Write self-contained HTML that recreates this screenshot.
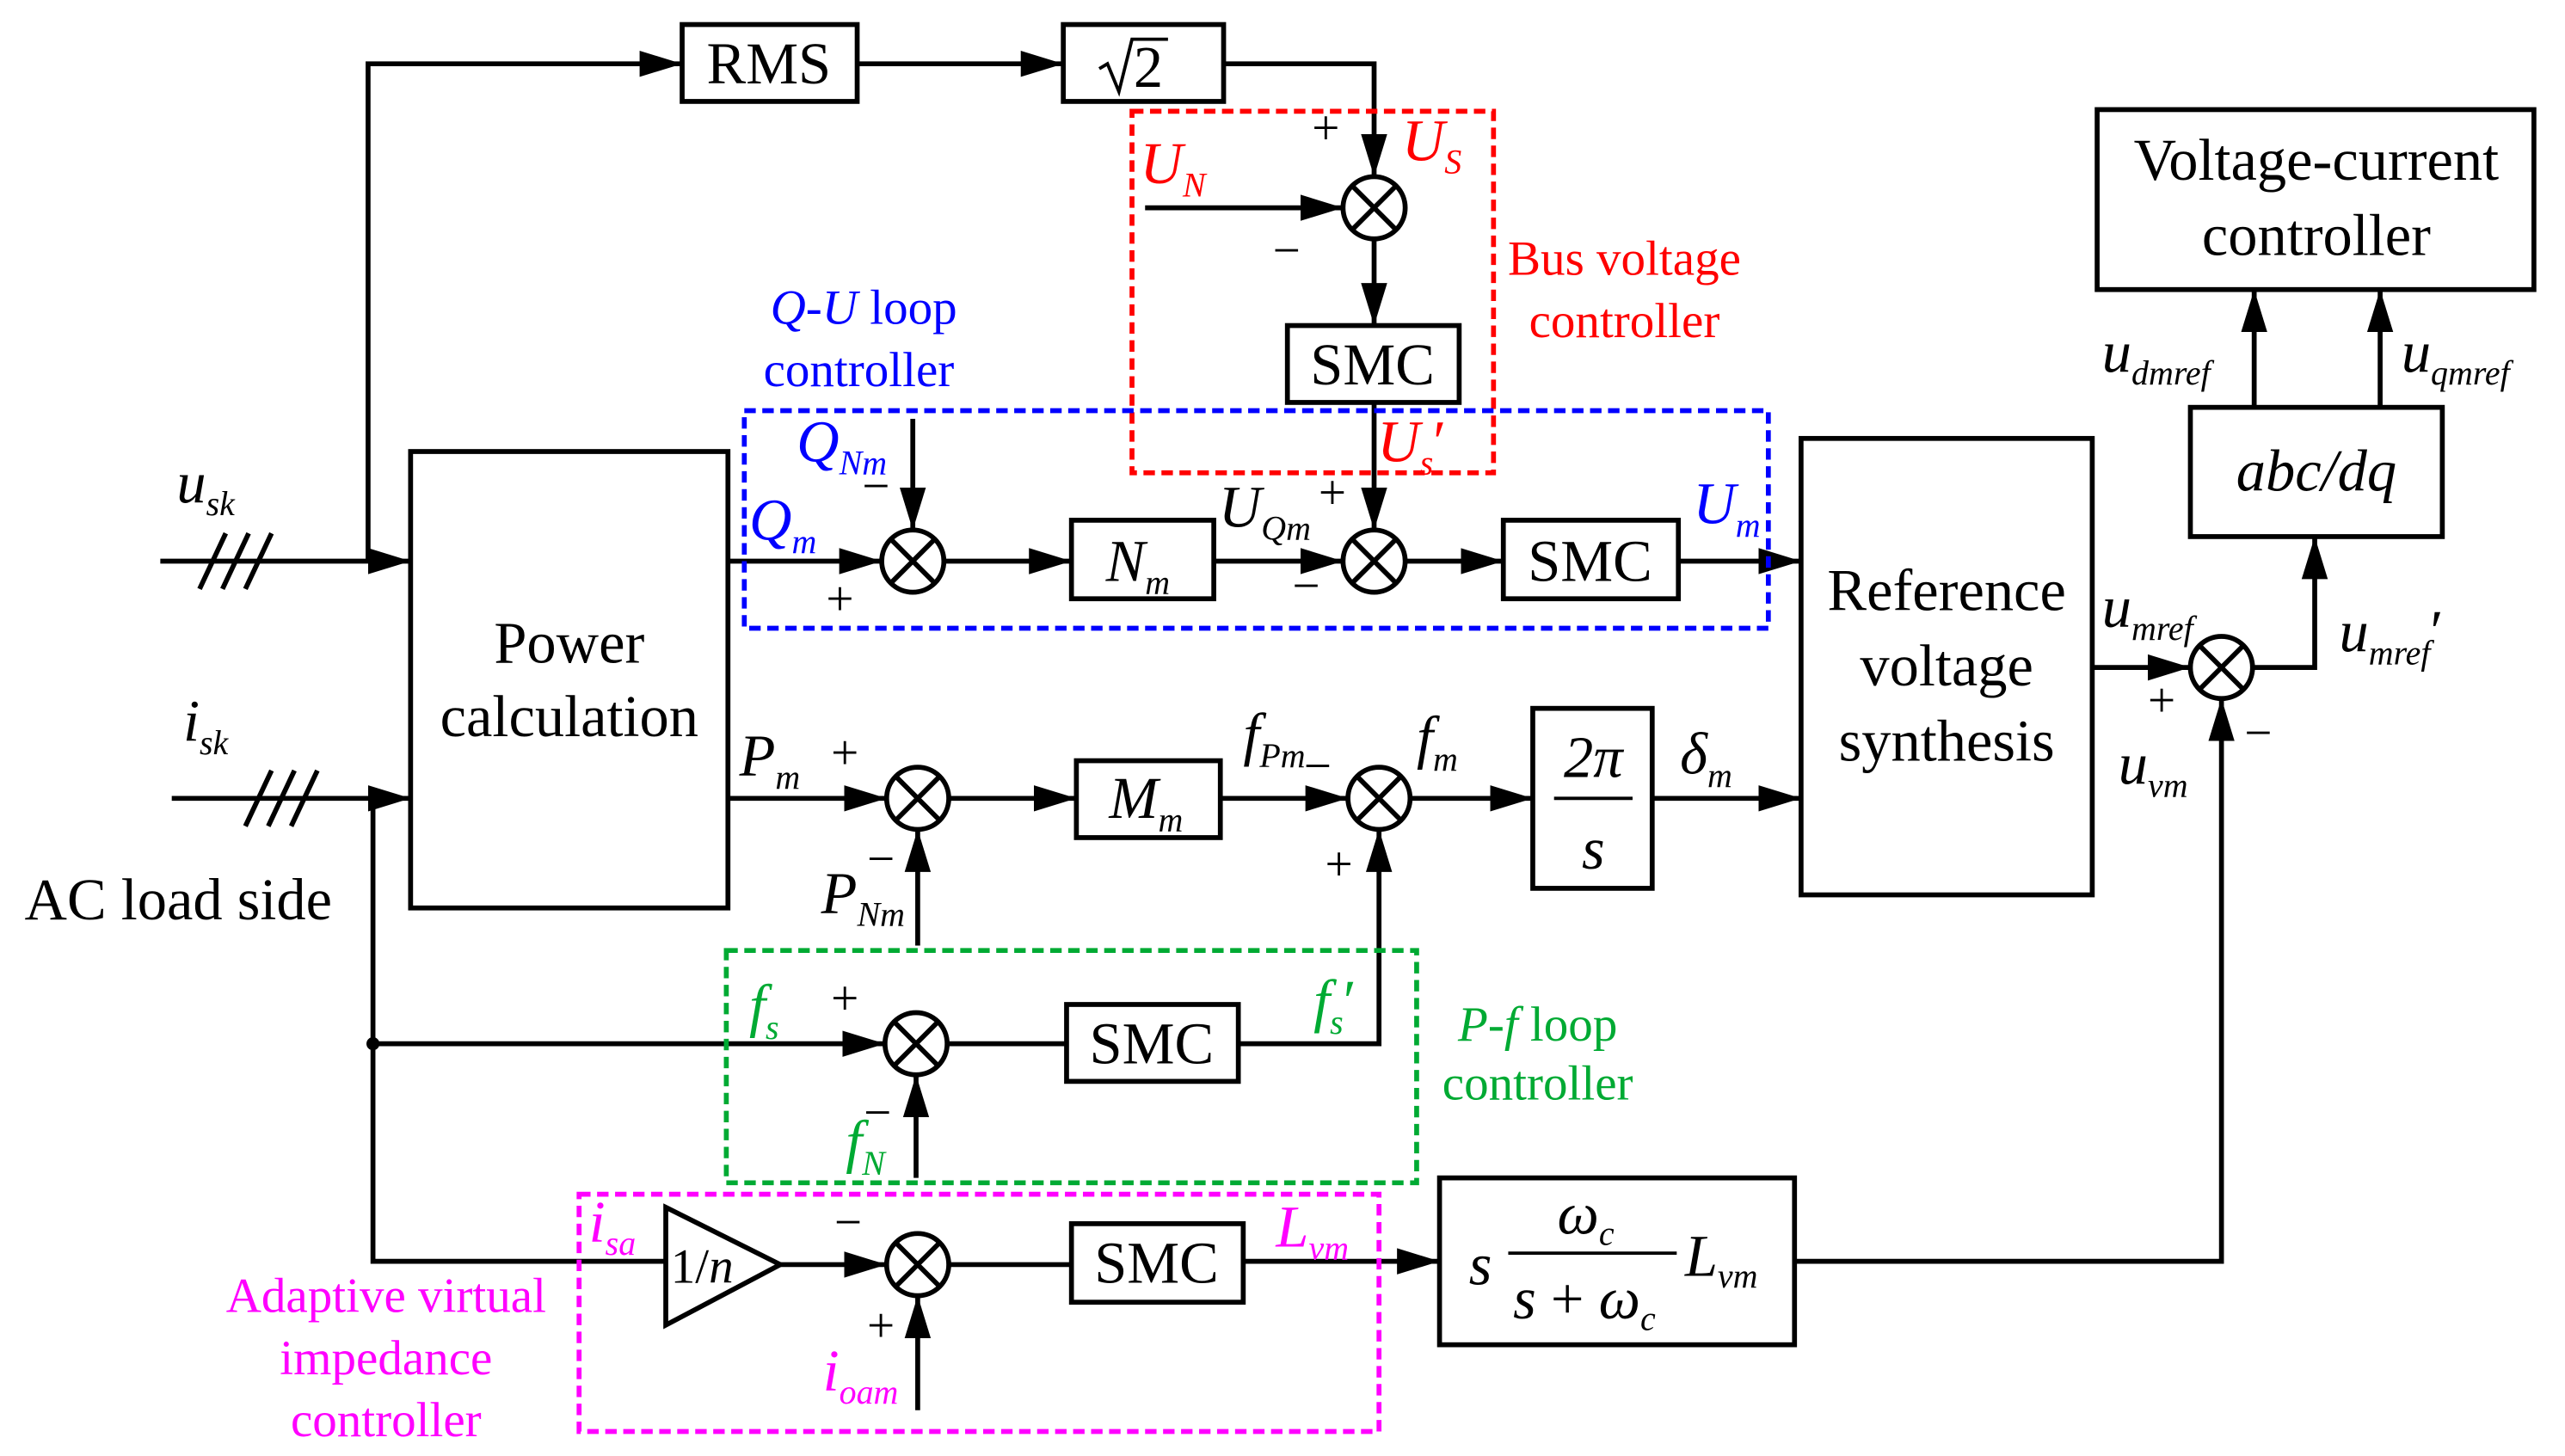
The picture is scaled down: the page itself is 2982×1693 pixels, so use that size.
<!DOCTYPE html>
<html><head><meta charset="utf-8"><style>
html,body{margin:0;padding:0;background:#fff}
svg{display:block}
text{font-family:"Liberation Serif",serif;font-size:30px}
.b{font-size:36px}
.i{font-style:italic}
.s{font-size:21px;font-style:italic}
</style></head><body>
<svg width="2982" height="1693" viewBox="0 0 1568 890" preserveAspectRatio="none" xmlns="http://www.w3.org/2000/svg">
<defs>
<marker id="a" markerUnits="userSpaceOnUse" markerWidth="28" markerHeight="20" refX="26" refY="10" orient="auto">
<path d="M0,2 L26,10 L0,18 Z" fill="#000"/></marker>
<g id="x"><circle r="19" fill="#fff" stroke="#000" stroke-width="3"/><path d="M-13,-13L13,13M13,-13L-13,13" stroke="#000" stroke-width="3"/></g>
</defs>
<g fill="none" stroke="#000" stroke-width="3">
<rect x="417" y="15" width="107" height="47"/>
<rect x="650" y="15" width="98" height="47"/>
<rect x="787" y="199" width="105" height="47"/>
<rect x="251" y="276" width="194" height="279"/>
<rect x="655" y="318" width="87" height="48"/>
<rect x="919" y="318" width="107" height="48"/>
<rect x="1101" y="268" width="178" height="279"/>
<rect x="658" y="465" width="88" height="47"/>
<rect x="937" y="433" width="73" height="110"/>
<rect x="652" y="614" width="105" height="47"/>
<rect x="655" y="748" width="105" height="48"/>
<rect x="880" y="720" width="217" height="102"/>
<rect x="1339" y="249" width="154" height="79"/>
<rect x="1282" y="67" width="267" height="110"/>
<path d="M407,738 L477,773 L407,810 Z"/>
<path d="M98,343 H251" marker-end="url(#a)"/>
<path d="M225,343 V39 H417" marker-end="url(#a)"/>
<path d="M524,39 H650" marker-end="url(#a)"/>
<path d="M748,39 H840 V108" marker-end="url(#a)"/>
<path d="M700,127 H821" marker-end="url(#a)"/>
<path d="M840,146 V199" marker-end="url(#a)"/>
<path d="M840,246 V324" marker-end="url(#a)"/>
<path d="M445,343 H539" marker-end="url(#a)"/>
<path d="M558,256 V324" marker-end="url(#a)"/>
<path d="M577,343 H655" marker-end="url(#a)"/>
<path d="M742,343 H821" marker-end="url(#a)"/>
<path d="M859,343 H919" marker-end="url(#a)"/>
<path d="M1026,343 H1101" marker-end="url(#a)"/>
<path d="M105,488 H251" marker-end="url(#a)"/>
<path d="M445,488 H542" marker-end="url(#a)"/>
<path d="M561,578 V507" marker-end="url(#a)"/>
<path d="M580,488 H658" marker-end="url(#a)"/>
<path d="M746,488 H824" marker-end="url(#a)"/>
<path d="M862,488 H937" marker-end="url(#a)"/>
<path d="M1010,488 H1101" marker-end="url(#a)"/>
<path d="M228,488 V771 H407"/>
<path d="M228,638 H541" marker-end="url(#a)"/>
<path d="M560,720 V657" marker-end="url(#a)"/>
<path d="M579,638 H652"/>
<path d="M757,638 H843 V507" marker-end="url(#a)"/>
<path d="M477,773 H542" marker-end="url(#a)"/>
<path d="M561,862 V792" marker-end="url(#a)"/>
<path d="M580,773 H655"/>
<path d="M760,771 H880" marker-end="url(#a)"/>
<path d="M1097,771 H1358 V427" marker-end="url(#a)"/>
<path d="M1279,408 H1339" marker-end="url(#a)"/>
<path d="M1377,408 H1415 V328" marker-end="url(#a)"/>
<path d="M1378,249 V177" marker-end="url(#a)"/>
<path d="M1455,249 V177" marker-end="url(#a)"/>
<path d="M122,360 L138,326 M136,360 L152,326 M150,360 L166,326"/>
<path d="M150,505 L166,471 M164,505 L180,471 M178,505 L194,471"/>
<path d="M672,42 L677,39 L684,56 L692,24 H714" stroke-width="2"/>
<path d="M950,488 H998" stroke-width="2"/>
<path d="M922,766 H1025" stroke-width="2"/>
</g>
<circle cx="228" cy="638" r="4" fill="#000"/>
<use href="#x" x="840" y="127"/><use href="#x" x="558" y="343"/><use href="#x" x="840" y="343"/>
<use href="#x" x="561" y="488"/><use href="#x" x="843" y="488"/><use href="#x" x="560" y="638"/>
<use href="#x" x="561" y="773"/><use href="#x" x="1358" y="408"/>
<g fill="none" stroke-width="3" stroke-dasharray="7,4">
<rect x="692" y="68" width="221" height="221" stroke="#f00"/>
<rect x="455" y="251" width="626" height="133" stroke="#00f"/>
<rect x="444" y="581" width="422" height="142" stroke="#0a3"/>
<rect x="354" y="730" width="489" height="145" stroke="#f0f"/>
</g>
<text x="470" y="51" text-anchor="middle" class="b">RMS</text>
<text x="693" y="53" class="b">2</text>
<text x="839" y="235" text-anchor="middle" class="b">SMC</text>
<text x="348" y="405" text-anchor="middle" class="b">Power</text>
<text x="348" y="450" text-anchor="middle" class="b">calculation</text>
<text x="676" y="355" class="i b">N<tspan class="s" dy="8">m</tspan></text>
<text x="972" y="355" text-anchor="middle" class="b">SMC</text>
<text x="1190" y="373" text-anchor="middle" class="b">Reference</text>
<text x="1190" y="419" text-anchor="middle" class="b">voltage</text>
<text x="1190" y="465" text-anchor="middle" class="b">synthesis</text>
<text x="678" y="500" class="i b">M<tspan class="s" dy="8">m</tspan></text>
<text x="974" y="475" text-anchor="middle" class="i b">2π</text>
<text x="974" y="531" text-anchor="middle" class="i b">s</text>
<text x="704" y="650" text-anchor="middle" class="b">SMC</text>
<text x="707" y="784" text-anchor="middle" class="b">SMC</text>
<text x="410" y="784" font-size="28">1/<tspan class="i">n</tspan></text>
<text x="898" y="785" class="i b">s</text>
<text x="952" y="754" class="i b">ω<tspan class="s" dy="7">c</tspan></text>
<text x="925" y="806" class="i b">s<tspan font-style="normal"> + </tspan>ω<tspan class="s" dy="7">c</tspan></text>
<text x="1030" y="780" class="i b">L<tspan class="s" dy="7">vm</tspan></text>
<text x="1416" y="300" text-anchor="middle" class="i b">abc/dq</text>
<text x="1416" y="110" text-anchor="middle" class="b">Voltage-current</text>
<text x="1416" y="156" text-anchor="middle" class="b">controller</text>
<text x="15" y="562" class="b">AC load side</text>
<text x="108" y="307" class="i b">u<tspan class="s" dy="8">sk</tspan></text>
<text x="112" y="453" class="i b">i<tspan class="s" dy="8">sk</tspan></text>
<text x="802" y="88">+</text>
<text x="778" y="163">−</text>
<text x="527" y="307">−</text>
<text x="505" y="376">+</text>
<text x="745" y="322" class="i b">U<tspan class="s" dy="8">Qm</tspan></text>
<text x="806" y="311">+</text>
<text x="790" y="368">−</text>
<text x="452" y="474" class="i b">P<tspan class="s" dy="8">m</tspan></text>
<text x="508" y="470">+</text>
<text x="530" y="535">−</text>
<text x="502" y="558" class="i b">P<tspan class="s" dy="8">Nm</tspan></text>
<text x="760" y="461" class="i b">f<tspan class="s" dy="8">Pm</tspan></text>
<text x="797" y="478">−</text>
<text x="866" y="463" class="i b">f<tspan class="s" dy="8">m</tspan></text>
<text x="810" y="538">+</text>
<text x="1027" y="473" class="i b">δ<tspan class="s" dy="8">m</tspan></text>
<text x="510" y="757">−</text>
<text x="530" y="820">+</text>
<text x="1285" y="383" class="i b">u<tspan class="s" dy="8">mref</tspan></text>
<text x="1313" y="438">+</text>
<text x="1295" y="479" class="i b">u<tspan class="s" dy="8">vm</tspan></text>
<text x="1372" y="458">−</text>
<text x="1430" y="398" class="i b">u<tspan class="s" dy="8">mref</tspan><tspan font-style="normal" dy="-8">′</tspan></text>
<text x="1285" y="227" class="i b">u<tspan class="s" dy="8">dmref</tspan></text>
<text x="1468" y="227" class="i b">u<tspan class="s" dy="8">qmref</tspan></text>
<g fill="#f00">
<text x="697" y="112" class="i b">U<tspan class="s" dy="8">N</tspan></text>
<text x="857" y="98" class="i b">U<tspan class="s" dy="8">S</tspan></text>
<text x="842" y="282" class="i b">U<tspan class="s" dy="8">s</tspan><tspan dy="-8" font-style="normal">′</tspan></text>
<text x="993" y="168" text-anchor="middle" font-size="29">Bus voltage</text>
<text x="993" y="206" text-anchor="middle" font-size="29">controller</text>
</g>
<g fill="#00f">
<text x="528" y="198" text-anchor="middle" font-size="29"><tspan class="i">Q-U</tspan> loop</text>
<text x="525" y="236" text-anchor="middle" font-size="29">controller</text>
<text x="487" y="282" class="i b">Q<tspan class="s" dy="8">Nm</tspan></text>
<text x="458" y="330" class="i b">Q<tspan class="s" dy="8">m</tspan></text>
<text x="1035" y="320" class="i b">U<tspan class="s" dy="8">m</tspan></text>
</g>
<g fill="#0a3">
<text x="458" y="627" class="i b">f<tspan class="s" dy="8">s</tspan></text>
<text x="508" y="620" fill="#000">+</text>
<text x="803" y="624" class="i b">f<tspan class="s" dy="8">s</tspan><tspan dy="-8" font-style="normal">′</tspan></text>
<text x="517" y="710" class="i b">f<tspan class="s" dy="8">N</tspan></text>
<text x="528" y="690" fill="#000">−</text>
<text x="940" y="636" text-anchor="middle" font-size="29"><tspan class="i">P-f</tspan> loop</text>
<text x="940" y="672" text-anchor="middle" font-size="29">controller</text>
</g>
<g fill="#f0f">
<text x="360" y="759" class="i b">i<tspan class="s" dy="8">sa</tspan></text>
<text x="780" y="762" class="i b">L<tspan class="s" dy="8">vm</tspan></text>
<text x="503" y="850" class="i b">i<tspan class="s" dy="8">oam</tspan></text>
<text x="236" y="802" text-anchor="middle" font-size="29">Adaptive virtual</text>
<text x="236" y="840" text-anchor="middle" font-size="29">impedance</text>
<text x="236" y="878" text-anchor="middle" font-size="29">controller</text>
</g>
</svg>
</body></html>
